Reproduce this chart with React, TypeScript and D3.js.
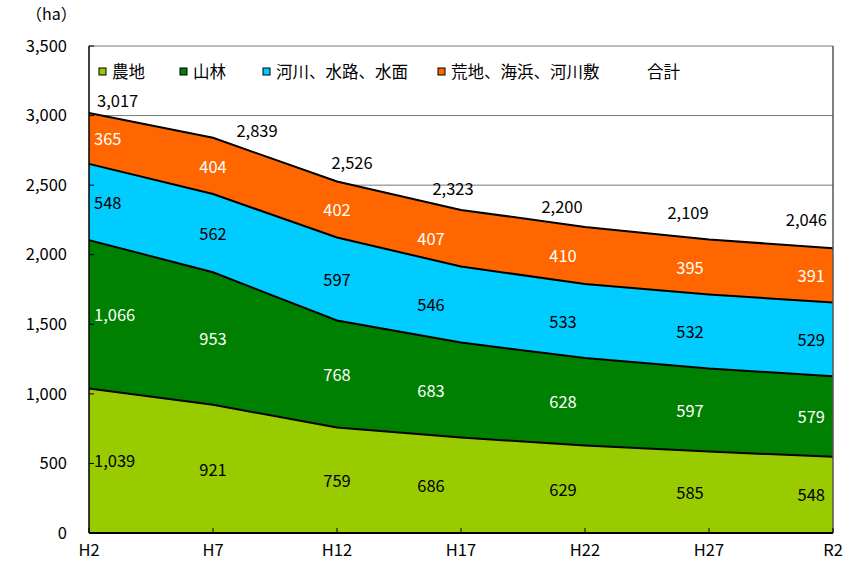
import React from "react";
import * as d3 from "d3";

const categories = ["H2", "H7", "H12", "H17", "H22", "H27", "R2"];
const seriesNames = ["農地", "山林", "河川、水路、水面", "荒地、海浜、河川敷"];
const farmland = [1039, 921, 759, 686, 629, 585, 548];
const forest = [1066, 953, 768, 683, 628, 597, 579];
const water = [548, 562, 597, 546, 533, 532, 529];
const wasteland = [365, 404, 402, 407, 410, 395, 391];
const totals = [3017, 2839, 2526, 2323, 2200, 2109, 2046];
const yTicks = [0, 500, 1000, 1500, 2000, 2500, 3000, 3500];

const colors = ["#99CC00", "#008000", "#00CCFF", "#FF6600"];
const labelColors = ["#000", "#fff", "#000", "#fff"];
// label placement tweaks (px) per category, mimicking the original layout
const bandLabelDx = [0, 0, 0, -30, -22, -19, 0];
const totalLabelDx = [0, 44, 15, -8, -23, -21, 0];
const totalLabelDy = [-13, -8, -19, -21, -20, -27, -29];

const W = 858;
const H = 562;
const M = { left: 89, right: 833, top: 46, bottom: 533 };
const FONT = "'Noto Sans CJK JP', 'Noto Sans', sans-serif";
const FS = 16.5;

export default function App() {
  const x = d3.scalePoint<string>().domain(categories).range([M.left, M.right]);
  const y = d3.scaleLinear().domain([0, 3500]).range([M.bottom, M.top]);
  const values = [farmland, forest, water, wasteland];
  const rows = categories.map((c, i) => ({ c, s0: values[0][i], s1: values[1][i], s2: values[2][i], s3: values[3][i] }));
  const stack = d3.stack<any>().keys(["s0", "s1", "s2", "s3"]);
  const layers = stack(rows);
  const area = d3
    .area<any>()
    .x((d) => x(d.data.c) as number)
    .y0((d) => y(d[0]))
    .y1((d) => y(d[1]));
  const line = d3
    .line<any>()
    .x((d) => x(d.data.c) as number)
    .y((d) => y(d[1]));

  const fmt = d3.format(",");
  const last = categories.length - 1;
  const anchorFor = (i: number) => (i === 0 ? "start" : i === last ? "end" : "middle");
  const baseX = (i: number) => {
    const px = x(categories[i]) as number;
    if (i === 0) return px + 5;
    if (i === last) return px - 8;
    return px;
  };

  const legendItems = [
    { name: seriesNames[0], color: colors[0], x: 99 },
    { name: seriesNames[1], color: colors[1], x: 180 },
    { name: seriesNames[2], color: colors[2], x: 263 },
    { name: seriesNames[3], color: colors[3], x: 438 },
  ];

  return (
    <svg width={W} height={H} style={{ position: "absolute", left: 0, top: 0 }} fontFamily={FONT}>
      <rect x={0} y={0} width={W} height={H} fill="#fff" />
      {yTicks.map((t) => (
        <line key={t} x1={M.left} x2={M.right} y1={y(t)} y2={y(t)} stroke="#777" strokeWidth={1} />
      ))}
      {layers.map((l, k) => (
        <path key={k} d={area(l) as string} fill={colors[k]} />
      ))}
      {layers.map((l, k) => (
        <path key={"l" + k} d={line(l) as string} fill="none" stroke="#000" strokeWidth={2} />
      ))}
      <line x1={M.right} x2={M.right} y1={M.top} y2={M.bottom} stroke="#555" strokeWidth={1.5} />
      <line x1={M.left} x2={M.left} y1={M.top} y2={M.bottom} stroke="#000" strokeWidth={1.5} />
      <line x1={M.left} x2={M.right} y1={M.bottom} y2={M.bottom} stroke="#000" strokeWidth={2} />
      {yTicks.map((t) => (
        <g key={"yt" + t}>
          <line x1={M.left} x2={M.left + 5} y1={y(t)} y2={y(t)} stroke="#000" strokeWidth={1} />
          <text x={67} y={y(t)} dy="0.35em" textAnchor="end" fontSize={FS} fill="#000">
            {fmt(t)}
          </text>
        </g>
      ))}
      {categories.map((c) => (
        <g key={"xt" + c}>
          <line x1={x(c)} x2={x(c)} y1={M.bottom} y2={M.bottom - 5} stroke="#000" strokeWidth={1} />
          <text x={x(c)} y={550} dy="0.35em" textAnchor="middle" fontSize={FS} fill="#000">
            {c}
          </text>
        </g>
      ))}
      <text x={26} y={14} dy="0.35em" fontSize={16} fill="#000">
        （ha）
      </text>
      {layers.map((l, k) =>
        l.map((d, i) => (
          <text
            key={"bl" + k + "-" + i}
            x={baseX(i) + bandLabelDx[i]}
            y={y((d[0] + d[1]) / 2)}
            dy="0.4em"
            textAnchor={anchorFor(i)}
            fontSize={FS}
            fill={labelColors[k]}
          >
            {fmt(values[k][i])}
          </text>
        ))
      )}
      {totals.map((t, i) => (
        <text
          key={"tl" + i}
          x={baseX(i) + (i === 0 ? 3 : 0) + (i === last ? 2 : 0) + totalLabelDx[i]}
          y={y(t) + totalLabelDy[i]}
          dy="0.4em"
          textAnchor={anchorFor(i)}
          fontSize={FS}
          fill="#000"
        >
          {fmt(t)}
        </text>
      ))}
      {legendItems.map((it) => (
        <g key={it.name}>
          <rect x={it.x} y={68} width={7} height={7} fill={it.color} stroke="#000" strokeWidth={1} />
          <text x={it.x + 13} y={72} dy="0.36em" fontSize={16.5} fill="#000">
            {it.name}
          </text>
        </g>
      ))}
      <text x={647} y={72} dy="0.36em" fontSize={16.5} fill="#000">
        合計
      </text>
    </svg>
  );
}
